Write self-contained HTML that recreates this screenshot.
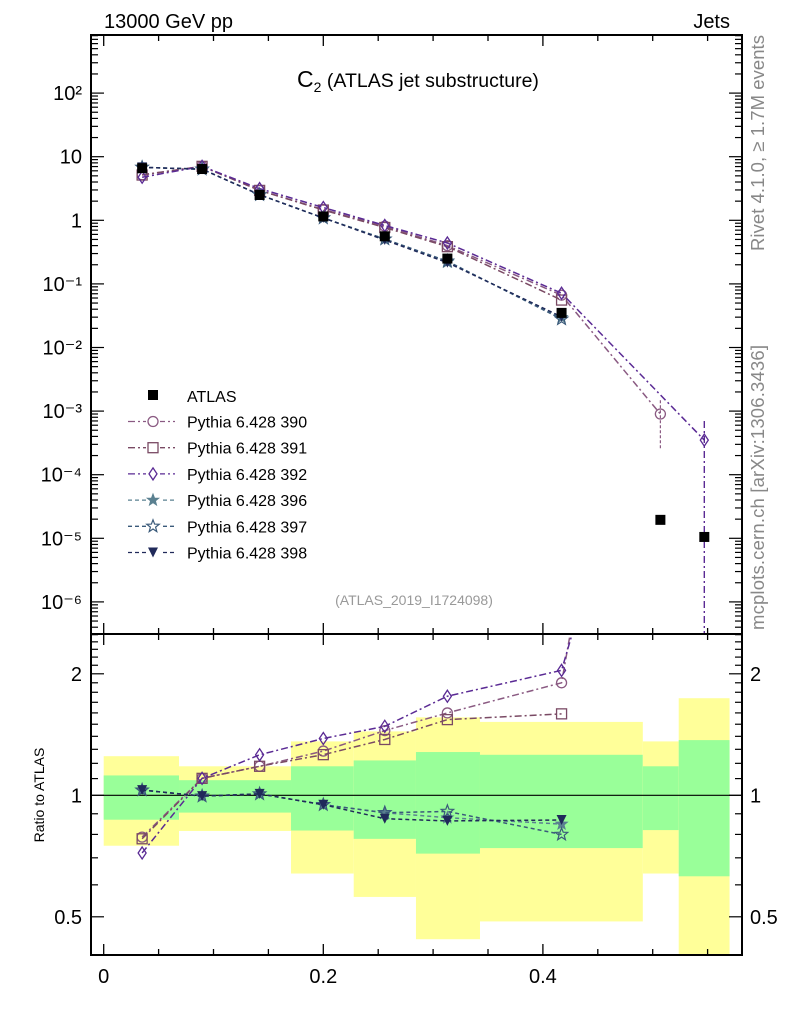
<!DOCTYPE html>
<html><head><meta charset="utf-8"><style>
body{margin:0;background:#fff;}
svg text{font-family:"Liberation Sans",sans-serif;}
</style></head><body>
<svg id="c" width="786" height="1024" xmlns="http://www.w3.org/2000/svg"></svg>
<script>
const xCenters=[0.035,0.0896,0.142,0.2,0.256,0.313,0.417,0.507,0.547];
const binEdges=[0,0.0686,0.1706,0.2277,0.2844,0.3427,0.491,0.5237,0.570];
const atlas=[6.6,6.4,2.5,1.15,0.56,0.25,0.035,1.95e-5,1.05e-5];
const bandYellowHi=[1.25,1.18,1.36,1.44,1.56,1.52,1.36,1.74];
const bandGreenHi=[1.12,1.09,1.18,1.22,1.28,1.26,1.18,1.37];
const bandGreenLo=[0.87,0.906,0.818,0.78,0.717,0.74,0.82,0.63];
const bandYellowLo=[0.75,0.816,0.64,0.56,0.44,0.487,0.64,0.3];
const mc390=[5.2,7.05,2.95,1.48,0.81,0.40,0.0665,9e-4,null];
const mc391=[5.15,7.05,2.95,1.45,0.77,0.385,0.0557,null,null];
const mc392=[4.75,7.05,3.15,1.59,0.83,0.44,0.0714,null,3.5e-4];
const mc396=[6.8,6.37,2.52,1.09,0.507,0.22,0.0297,null,null];
const mc397=[6.8,6.37,2.52,1.09,0.507,0.228,0.028,null,null];
const mc398=[6.8,6.37,2.52,1.09,0.49,0.216,0.0304,null,null];
const yTickLabels=["10\u207B\u2076","10\u207B\u2075","10\u207B\u2074","10\u207B\u00B3","10\u207B\u00B2","10\u207B\u00B9","1","10","10\u00B2"];
const xTickLabels=["0","0.2","0.4"];

const NS="http://www.w3.org/2000/svg";
const svg=document.getElementById('c');
const L=91,R=742,T=35,M=634,B=955;
const X=v=>103.7+v*1098;
const Y=v=>220.3-Math.log10(v)*63.6;
const RY=r=>795.3-Math.log2(r)*121.5;
function mk(tag,attrs,parent){const e=document.createElementNS(NS,tag);for(const k in attrs)e.setAttribute(k,attrs[k]);(parent||svg).appendChild(e);return e;}
function txt(s,x,y,attrs,parent){const e=mk('text',Object.assign({x:x,y:y},attrs),parent);e.textContent=s;return e;}

const defs=mk('defs',{});
const cp1=mk('clipPath',{id:'cm'},defs);mk('rect',{x:L,y:T,width:R-L,height:M-T},cp1);
const cp2=mk('clipPath',{id:'cr'},defs);mk('rect',{x:L,y:M,width:R-L,height:B-M},cp2);

const gb=mk('g',{'clip-path':'url(#cr)'});


for(let i=0;i<bandYellowHi.length;i++){
  const x0=X(binEdges[i]),x1=X(binEdges[i+1]);
  const y=mk('rect',{x:x0,y:RY(bandYellowHi[i]),width:x1-x0,height:RY(bandYellowLo[i])-RY(bandYellowHi[i]),fill:'#ffff99'},gb);
  
  
  const g=mk('rect',{x:x0,y:RY(bandGreenHi[i]),width:x1-x0,height:RY(bandGreenLo[i])-RY(bandGreenHi[i]),fill:'#99ff99'},gb);
  
  
}
mk('line',{x1:L,x2:R,y1:RY(1),y2:RY(1),stroke:'#000','stroke-width':1.2});

const series=[
 {name:'390',d:mc390,c:'#8a5a82',m:'circle',dash:'7,3,2,3'},
 {name:'391',d:mc391,c:'#7a4a64',m:'square',dash:'7,3,2,3'},
 {name:'392',d:mc392,c:'#5a2a94',m:'diamond',dash:'7,3,2,3'},
 {name:'396',d:mc396,c:'#5a8090',m:'starf',dash:'4,3'},
 {name:'397',d:mc397,c:'#3a5a7a',m:'star',dash:'4,3'},
 {name:'398',d:mc398,c:'#202a5a',m:'tri',dash:'4,3'}];
function starPts(x,y,r){let p=[];for(let k=0;k<10;k++){const a=-Math.PI/2+k*Math.PI/5;const rr=k%2?r*0.42:r;p.push((x+rr*Math.cos(a)).toFixed(1)+','+(y+rr*Math.sin(a)).toFixed(1));}return p.join(' ');}
function marker(g,m,x,y,c){
  let e;
  if(m==='circle')e=mk('circle',{cx:x,cy:y,r:5,fill:'none',stroke:c,'stroke-width':1.3},g);
  else if(m==='square')e=mk('rect',{x:x-5,y:y-5,width:10,height:10,fill:'none',stroke:c,'stroke-width':1.3},g);
  else if(m==='diamond')e=mk('polygon',{points:`${x},${y-6} ${x+4},${y} ${x},${y+6} ${x-4},${y}`,fill:'none',stroke:c,'stroke-width':1.3},g);
  else if(m==='starf')e=mk('polygon',{points:starPts(x,y,6),fill:c,stroke:c},g);
  else if(m==='star')e=mk('polygon',{points:starPts(x,y,6.5),fill:'none',stroke:c,'stroke-width':1.2},g);
  else if(m==='tri')e=mk('polygon',{points:`${x-5},${y-5} ${x+5},${y-5} ${x},${y+5}`,fill:c},g);
  return e;
}
series.forEach(s=>{
  const gm=mk('g',{'clip-path':'url(#cm)'});
  
  
  const gr=mk('g',{'clip-path':'url(#cr)'});
  
  
  let pm=[],pr=[];
  s.d.forEach((v,i)=>{if(v==null)return;pm.push(X(xCenters[i])+','+Y(v));pr.push(X(xCenters[i])+','+RY(v/atlas[i]));});
  mk('polyline',{points:pm.join(' '),fill:'none',stroke:s.c,'stroke-width':1.5,'stroke-dasharray':s.dash},gm);
  mk('polyline',{points:pr.join(' '),fill:'none',stroke:s.c,'stroke-width':1.5,'stroke-dasharray':s.dash},gr);
  s.d.forEach((v,i)=>{if(v==null)return;
    const a=marker(gm,s.m,X(xCenters[i]),Y(v),s.c);
    
    
    const b=marker(gr,s.m,X(xCenters[i]),RY(v/atlas[i]),s.c);
    
    
  });
});
mk('line',{x1:X(0.507),x2:X(0.507),y1:Y(2.6e-4),y2:Y(1.5e-3),stroke:'#8a5a82','stroke-width':1.2,'stroke-dasharray':'3,2'});
mk('line',{x1:X(0.547),x2:X(0.547),y1:Y(7e-4),y2:M,stroke:'#5a2a94','stroke-width':1.4,'stroke-dasharray':'7,3,2,3'});
const ga=mk('g',{'clip-path':'url(#cm)'});


atlas.forEach((v,i)=>{const r=mk('rect',{x:X(xCenters[i])-5,y:Y(v)-5,width:10,height:10,fill:'#000'},ga);
 
 });

mk('rect',{x:L,y:T,width:R-L,height:M-T,fill:'none',stroke:'#000','stroke-width':2});
mk('rect',{x:L,y:M,width:R-L,height:B-M,fill:'none',stroke:'#000','stroke-width':2});
for(let k=0;k<=11;k++){const v=k*0.05,x=X(v);if(x>R)break;const len=(k%4===0)?11:6;
 [T,M].forEach(y=>mk('line',{x1:x,x2:x,y1:y,y2:y+len,stroke:'#000','stroke-width':1.3}));
 [M,B].forEach(y=>mk('line',{x1:x,x2:x,y1:y,y2:y-len,stroke:'#000','stroke-width':1.3}));}
xTickLabels.forEach((s,i)=>{const t=txt(s,X(i*0.2),983,{'font-size':20,'text-anchor':'middle'});});
for(let e=-7;e<=2;e++){for(let m=1;m<10;m++){const v=m*Math.pow(10,e),y=Y(v);if(y<T||y>M)continue;const len=m===1?13:7;
 mk('line',{x1:L,x2:L+len,y1:y,y2:y,stroke:'#000','stroke-width':1.2});mk('line',{x1:R,x2:R-len,y1:y,y2:y,stroke:'#000','stroke-width':1.2});}}
yTickLabels.forEach((s,i)=>{const e=i-6;const t=txt(s,82,Y(Math.pow(10,e))+7,{'font-size':20,'text-anchor':'end'});});
for(let r=0.4;r<=2.55;r+=0.1){const rr=Math.round(r*10)/10,y=RY(rr);if(y<M||y>B)continue;const maj=(rr===0.5||rr===1||rr===2);const len=maj?13:7;
 mk('line',{x1:L,x2:L+len,y1:y,y2:y,stroke:'#000','stroke-width':1.2});mk('line',{x1:R,x2:R-len,y1:y,y2:y,stroke:'#000','stroke-width':1.2});}
[["2",2],["1",1],["0.5",0.5]].forEach(a=>{txt(a[0],82,RY(a[1])+7,{'font-size':20,'text-anchor':'end'});txt(a[0],750,RY(a[1])+7,{'font-size':20});});
const rt=txt('Ratio to ATLAS',0,0,{'font-size':14,transform:'translate(44,795) rotate(-90)','text-anchor':'middle'});


txt('13000 GeV pp',104,28,{'font-size':20});
txt('Jets',730,28,{'font-size':20,'text-anchor':'end'});
const tt=mk('text',{x:418,y:87,'font-size':19.5,'text-anchor':'middle'});
tt.innerHTML='<tspan font-size="23">C</tspan><tspan font-size="14" dy="5">2</tspan><tspan dy="-5"> (ATLAS jet substructure)</tspan>';


txt('(ATLAS_2019_I1724098)',414,605,{'font-size':14,fill:'#999','text-anchor':'middle'});
txt('Rivet 4.1.0, \u2265 1.7M events',0,0,{'font-size':18.5,fill:'#888',transform:'translate(764,251) rotate(-90)','textLength':216});
txt('mcplots.cern.ch [arXiv:1306.3436]',0,0,{'font-size':18.5,fill:'#888',transform:'translate(764,630) rotate(-90)','textLength':285});
const lg=mk('g',{});


mk('rect',{x:148,y:390,width:10,height:10,fill:'#000'},lg);
txt('ATLAS',187,402,{'font-size':16},lg);
series.forEach((s,i)=>{const y=421.5+i*26.2;
 mk('line',{x1:128,x2:175,y1:y,y2:y,stroke:s.c,'stroke-width':1.3,'stroke-dasharray':s.dash},lg);
 mk('rect',{x:146,y:y-7,width:14,height:14,fill:'#fff'},lg);
 marker(lg,s.m,153,y,s.c);
 const t=txt('Pythia 6.428 '+s.name,187,y+6,{'font-size':16},lg);
 
 });
</script>
</body></html>
